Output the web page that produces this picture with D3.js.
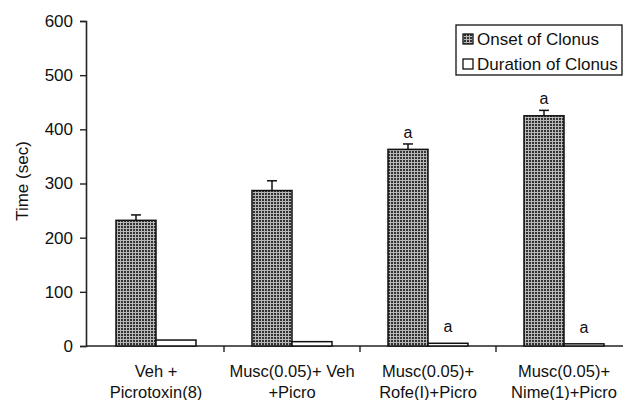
<!DOCTYPE html>
<html>
<head>
<meta charset="utf-8">
<script src="https://cdn.jsdelivr.net/npm/d3@7"></script>
<style>
  body { margin: 0; background: #fff; }
  text { font-family: "Liberation Sans", Arial, sans-serif; fill: #111; }
</style>
</head>
<body>
<div id="chart"></div>
<script>
// chart values
const categories = [
    ["Veh +", "Picrotoxin(8)"],
    ["Musc(0.05)+ Veh", "+Picro"],
    ["Musc(0.05)+", "Rofe(I)+Picro"],
    ["Musc(0.05)+", "Nime(1)+Picro"]
];
const onset = [232, 287, 363, 425];
const onsetErr = [10, 18, 10, 10];
const duration = [11, 8, 5, 4];
const onsetMark = ["", "", "a", "a"];
const durationMark = ["", "", "a", "a"];
const yTicks = [0, 100, 200, 300, 400, 500, 600];
const seriesNames = ["Onset of Clonus", "Duration of Clonus"];

const W = 623, H = 400;
const margin = { top: 21, right: 0, bottom: 54, left: 86 };

const svg = d3.select("#chart")
    .append("svg")
    .attr("width", W)
    .attr("height", H);

// grid texture for the onset bars
const defs = svg.append("defs");
const pat = defs.append("pattern")
    .attr("id", "grid")
    .attr("patternUnits", "userSpaceOnUse")
    .attr("width", 3)
    .attr("height", 3);
pat.append("rect").attr("width", 3).attr("height", 3).attr("fill", "#333");
pat.append("line").attr("x1", 0).attr("y1", 0.5).attr("x2", 3).attr("y2", 0.5)
    .attr("stroke", "#b8b8b8").attr("stroke-width", 1);
pat.append("line").attr("x1", 0.5).attr("y1", 0).attr("x2", 0.5).attr("y2", 3)
    .attr("stroke", "#b8b8b8").attr("stroke-width", 1);

const y = d3.scaleLinear()
    .domain([0, 600])
    .range([346, margin.top]);

const x = d3.scaleBand()
    .domain(d3.range(categories.length))
    .range([88, 88 + 136 * categories.length]);

const sub = d3.scaleBand()
    .domain([0, 1])
    .range([0, x.bandwidth()])
    .paddingOuter(0.7)
    .paddingInner(0);

// y axis
const yAxis = svg.append("g")
    .attr("transform", `translate(${margin.left},0)`)
    .call(d3.axisLeft(y).tickValues(yTicks).tickSize(6).tickPadding(7));
yAxis.select(".domain").attr("stroke", "#222").attr("stroke-width", 1.6);
yAxis.selectAll(".tick line").attr("stroke", "#222").attr("stroke-width", 1.4);
yAxis.selectAll("text").style("font-size", "17px").style("font-family", "Liberation Sans, Arial, sans-serif").attr("fill", "#111");

// x axis
const xAxis = svg.append("g")
    .attr("transform", `translate(0,${y(0)})`);
xAxis.append("line")
    .attr("x1", margin.left).attr("x2", W)
    .attr("stroke", "#222").attr("stroke-width", 1.6);
xAxis.selectAll(".cat-tick")
    .data(d3.range(1, categories.length))
    .enter()
    .append("line")
    .attr("x1", (d) => x(d)).attr("x2", (d) => x(d))
    .attr("y1", 0).attr("y2", 6)
    .attr("stroke", "#222").attr("stroke-width", 1.4);

// category labels
const lab = svg.append("g").selectAll("text")
    .data(categories)
    .enter()
    .append("text")
    .attr("x", (d, i) => x(i) + x.bandwidth() / 2)
    .attr("text-anchor", "middle")
    .style("font-size", "16.5px");
lab.append("tspan").attr("x", (d, i) => x(i) + x.bandwidth() / 2).attr("y", 377).text((d) => d[0]);
lab.append("tspan").attr("x", (d, i) => x(i) + x.bandwidth() / 2).attr("y", 398).text((d) => d[1]);

// y title
svg.append("text")
    .attr("transform", "translate(28,181) rotate(-90)")
    .attr("text-anchor", "middle")
    .style("font-size", "17px")
    .text("Time (sec)");

const bars = svg.append("g");

// onset bars
bars.selectAll(".onset")
    .data(onset)
    .enter()
    .append("rect")
    .attr("x", (d, i) => x(i) + sub(0))
    .attr("y", (d) => y(d))
    .attr("width", sub.bandwidth())
    .attr("height", (d) => y(0) - y(d))
    .attr("fill", "url(#grid)")
    .attr("stroke", "#111")
    .attr("stroke-width", 1.5);

// duration bars
bars.selectAll(".dur")
    .data(duration)
    .enter()
    .append("rect")
    .attr("x", (d, i) => x(i) + sub(1))
    .attr("y", (d) => y(d))
    .attr("width", sub.bandwidth())
    .attr("height", (d) => y(0) - y(d))
    .attr("fill", "#fff")
    .attr("stroke", "#111")
    .attr("stroke-width", 1.5);

// error bars (upper only)
const err = bars.selectAll(".err")
    .data(onset)
    .enter()
    .append("g")
    .attr("stroke", "#111")
    .attr("stroke-width", 1.5);
err.append("line")
    .attr("x1", (d, i) => x(i) + sub(0) + sub.bandwidth() / 2)
    .attr("x2", (d, i) => x(i) + sub(0) + sub.bandwidth() / 2)
    .attr("y1", (d) => y(d))
    .attr("y2", (d, i) => y(d + onsetErr[i]));
err.append("line")
    .attr("x1", (d, i) => x(i) + sub(0) + sub.bandwidth() / 2 - 5)
    .attr("x2", (d, i) => x(i) + sub(0) + sub.bandwidth() / 2 + 5)
    .attr("y1", (d, i) => y(d + onsetErr[i]))
    .attr("y2", (d, i) => y(d + onsetErr[i]));

// significance marks
bars.selectAll(".mark-on")
    .data(onset)
    .enter()
    .append("text")
    .attr("x", (d, i) => x(i) + sub(0) + sub.bandwidth() / 2)
    .attr("y", (d, i) => y(d + onsetErr[i]) - 6)
    .attr("text-anchor", "middle")
    .style("font-size", "16px")
    .text((d, i) => onsetMark[i]);
bars.selectAll(".mark-dur")
    .data(duration)
    .enter()
    .append("text")
    .attr("x", (d, i) => x(i) + sub(1) + sub.bandwidth() / 2)
    .attr("y", (d) => y(d) - 11)
    .attr("text-anchor", "middle")
    .style("font-size", "16px")
    .text((d, i) => durationMark[i]);

// legend
const legend = svg.append("g").attr("transform", "translate(456,25)");
legend.append("rect")
    .attr("width", 166).attr("height", 50)
    .attr("fill", "#fff").attr("stroke", "#111").attr("stroke-width", 1.3);
const item = legend.selectAll(".item")
    .data(seriesNames)
    .enter()
    .append("g")
    .attr("transform", (d, i) => `translate(7,${14 + i * 25})`);
item.append("rect")
    .attr("x", 0).attr("y", -5)
    .attr("width", 10).attr("height", 10)
    .attr("fill", (d, i) => i === 0 ? "url(#grid)" : "#fff")
    .attr("stroke", "#111").attr("stroke-width", 1.3);
item.append("text")
    .attr("x", 14).attr("y", 6)
    .style("font-size", "17px")
    .text((d) => d);
</script>
</body>
</html>
